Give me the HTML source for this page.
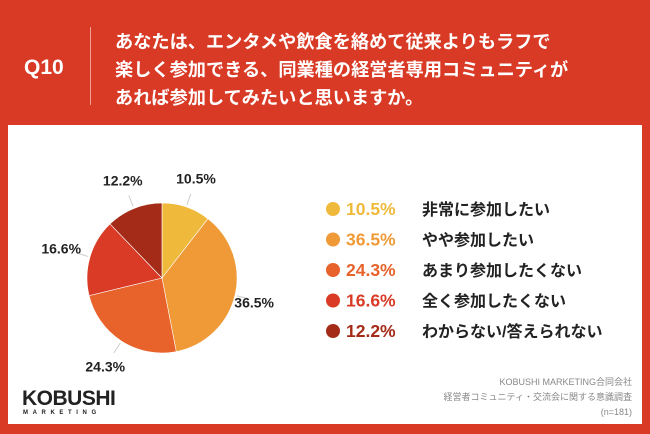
<!DOCTYPE html>
<html><head><meta charset="utf-8"><style>
body{margin:0;width:650px;height:434px;background:#d93a26;position:relative;overflow:hidden;font-family:"Liberation Sans","Noto Sans CJK JP",sans-serif}
.abs{position:absolute;white-space:nowrap}
</style></head><body>
<div class="abs" style="left:24px;top:56px;font-size:21px;font-weight:bold;color:#fff">Q10</div>
<div class="abs" style="left:90px;top:27px;width:1px;height:78px;background:#f0a090"></div>
<div class="abs" style="left:115px;top:28px;font-size:18.2px;font-weight:bold;color:#fff;line-height:28px">あなたは、エンタメや飲食を絡めて従来よりもラフで<br>楽しく参加できる、同業種の経営者専用コミュニティが<br>あれば参加してみたいと思いますか。</div>
<div class="abs" style="left:8px;top:125px;width:634px;height:299px;background:#fff"></div>
<svg class="abs" style="left:0;top:0" width="650" height="434" id="svg"></svg>
<div class="abs" style="left:22px;top:387px;font-size:21px;font-weight:900;color:#222;letter-spacing:-0.5px">KOBUSHI</div>
<div class="abs" style="left:23px;top:410px;font-size:6px;font-weight:bold;color:#222;letter-spacing:4.6px">MARKETING</div>
<div class="abs" style="right:18px;top:375px;font-size:9px;color:#888;text-align:right;line-height:15px">KOBUSHI MARKETING合同会社<br>経営者コミュニティ・交流会に関する意識調査<br>(n=181)</div>
<script>
const categories=["非常に参加したい","やや参加したい","あまり参加したくない","全く参加したくない","わからない/答えられない"];
const values=[10.5,36.5,24.3,16.6,12.2];
const colors=["#efba3c","#ef9a37","#e8622b","#d93b26","#a42b18"];
const svg=document.getElementById('svg');const NS="http://www.w3.org/2000/svg";
const cx=162,cy=278,r=75;
const total=values.reduce((a,b)=>a+b,0);
function pt(a,rr){return [cx+rr*Math.sin(a),cy-rr*Math.cos(a)];}
let acc=0;
values.forEach((v,i)=>{
 const a0=acc/total*2*Math.PI;acc+=v;const a1=acc/total*2*Math.PI;
 const p0=pt(a0,r),p1=pt(a1,r);
 const path=document.createElementNS(NS,'path');
 path.setAttribute('d',`M${cx},${cy}L${p0[0]},${p0[1]}A${r},${r} 0 ${a1-a0>Math.PI?1:0} 1 ${p1[0]},${p1[1]}Z`);
 path.setAttribute('fill',colors[i]);path.setAttribute('stroke','#fff');path.setAttribute('stroke-width','0.6');
 
 
 svg.appendChild(path);
 const am=(a0+a1)/2;const l0=pt(am,r+2),l1=pt(am,r+14),lt=pt(am,r+30);
 const ln=document.createElementNS(NS,'line');
 ln.setAttribute('x1',l0[0]);ln.setAttribute('y1',l0[1]);ln.setAttribute('x2',l1[0]);ln.setAttribute('y2',l1[1]);ln.setAttribute('stroke','#ccc');
 
 
 svg.appendChild(ln);
 const t=document.createElementNS(NS,'text');
 t.setAttribute('x',lt[0]-(i==1?10:0));t.setAttribute('y',lt[1]+5);t.setAttribute('text-anchor','middle');t.setAttribute('font-size','14');t.setAttribute('font-weight','bold');t.setAttribute('fill','#222');
 t.textContent=values[i].toFixed(1)+'%';
 
 
 svg.appendChild(t);
 const y=209+i*30.5;
 const c=document.createElementNS(NS,'circle');c.setAttribute('cx',333);c.setAttribute('cy',y);c.setAttribute('r',7);c.setAttribute('fill',colors[i]);
 
 
 svg.appendChild(c);
 const tp=document.createElementNS(NS,'text');tp.setAttribute('x',346);tp.setAttribute('y',y+6);tp.setAttribute('font-size','17.5');tp.setAttribute('font-weight','bold');tp.setAttribute('fill',colors[i]);
 tp.textContent=values[i].toFixed(1)+'%';
 
 
 svg.appendChild(tp);
 const tc=document.createElementNS(NS,'text');tc.setAttribute('x',422);tc.setAttribute('y',y+6);tc.setAttribute('font-size','16');tc.setAttribute('font-weight','bold');tc.setAttribute('fill','#222');
 tc.textContent=categories[i];
 
 
 svg.appendChild(tc);
});
</script>
</body></html>
